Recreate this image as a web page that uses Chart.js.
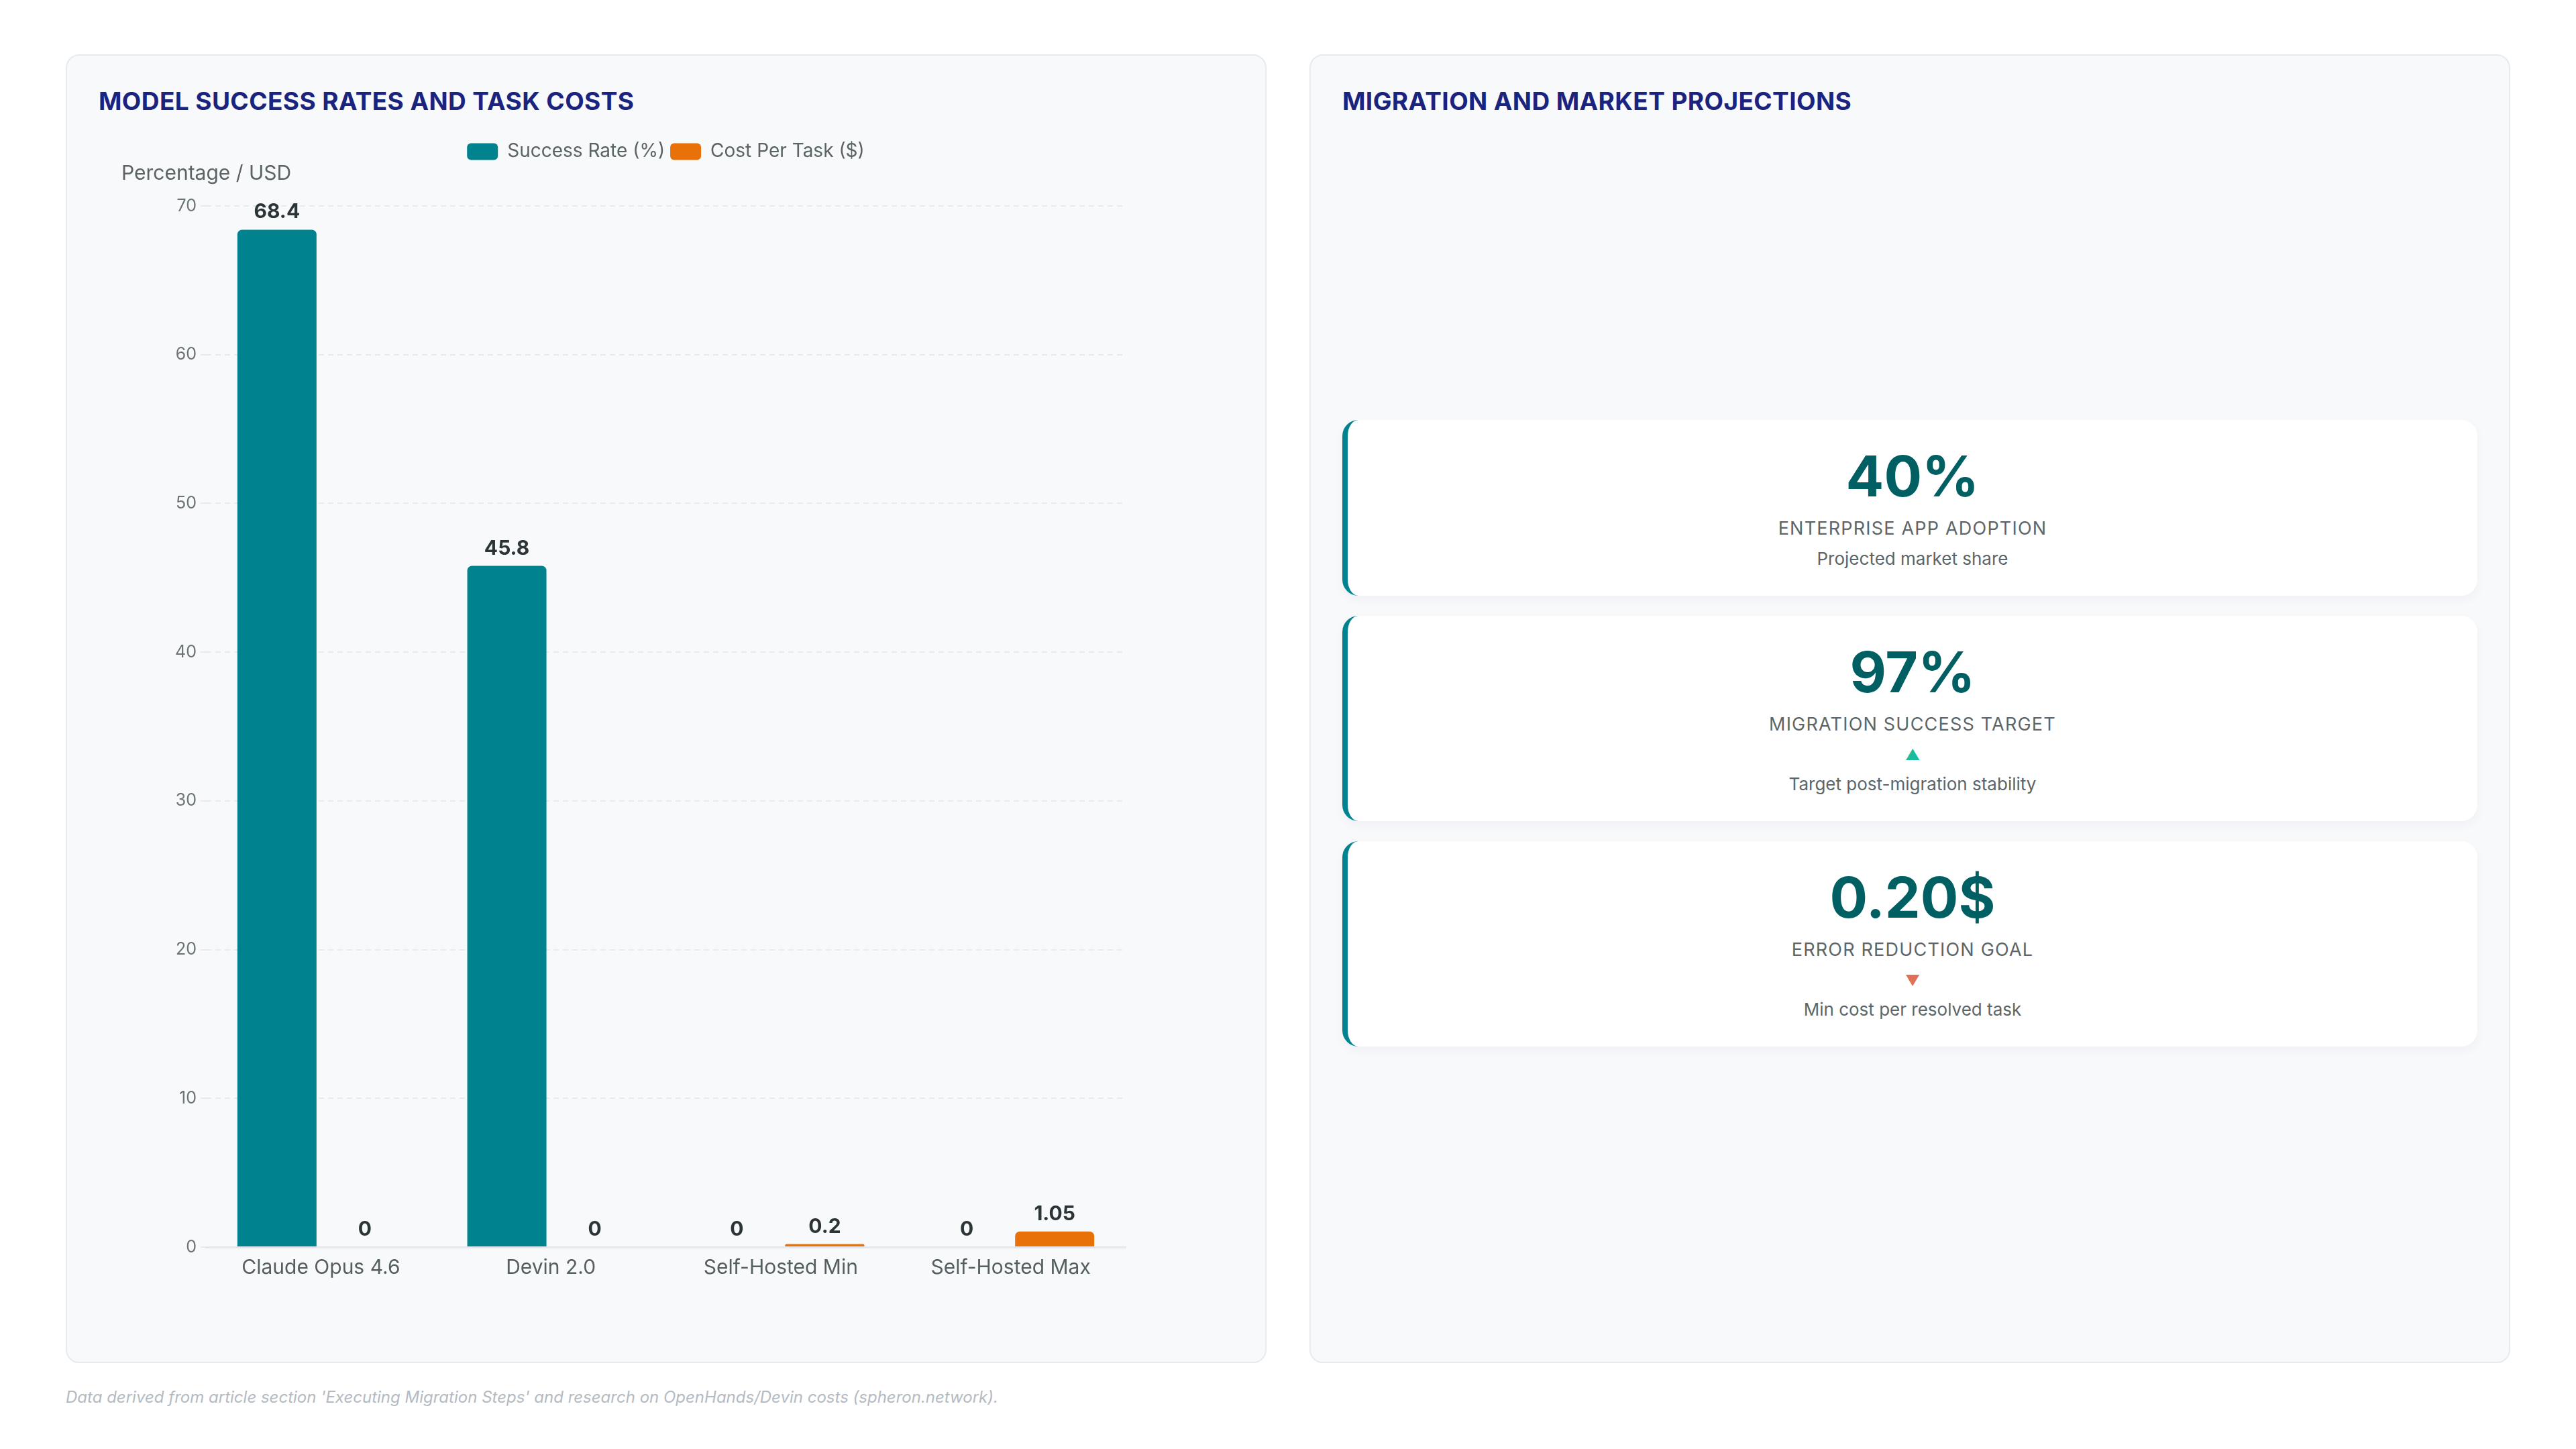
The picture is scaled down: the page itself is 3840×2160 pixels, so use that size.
<!DOCTYPE html>
<html>
<head>
<meta charset="utf-8">
<script src="https://cdn.jsdelivr.net/npm/chart.js@4.4.1/dist/chart.umd.min.js"></script>
<style>
  html, body { margin: 0; padding: 0; background: #ffffff; }
  body { width: 3840px; height: 2160px; position: relative; font-family: Inter, "Noto Sans", sans-serif; overflow: hidden; }
  .panel { position: absolute; top: 81px; height: 1951px; background: #f8f9fb; border: 2px solid #e7eaee; border-radius: 20px; box-sizing: border-box; }
  #left { left: 98px; width: 1790px; }
  #right { left: 1952px; width: 1790px; }
  .ptitle { position: absolute; left: 47px; top: 48px; margin: 0; font-size: 37px; line-height: 40px; font-weight: 700; color: #1a237e; letter-spacing: 0.4px; }
  #chartBox { position: absolute; left: 81px; top: 121px; width: 1656px; height: 1778px; }
  #cards { position: absolute; left: 47px; right: 47px; top: 120px; bottom: 47px; display: flex; flex-direction: column; justify-content: center; gap: 30px; }
  .card { background: #ffffff; border-left: 8px solid #00838f; border-radius: 24px; box-shadow: 0 6px 16px rgba(20, 30, 40, 0.04); padding: 34px 20px 38px 20px; text-align: center; }
  .kval { font-size: 84px; line-height: 99px; font-weight: 700; color: #005f62; }
  .klabel { margin-top: 11px; font-size: 27px; line-height: 36px; letter-spacing: 1.2px; color: #5c6668; text-transform: uppercase; }
  .ktrend { margin-top: 10px; font-size: 22px; line-height: 34px; }
  .knote { margin-top: 10px; font-size: 26px; line-height: 34px; color: #5c6668; }
  #foot { position: absolute; left: 98px; top: 2068px; font-size: 24px; font-style: italic; color: #b3bac1; }
</style>
</head>
<body>
<div class="panel" id="left">
  <h2 class="ptitle">MODEL SUCCESS RATES AND TASK COSTS</h2>
  <div id="chartBox"><canvas id="chart"></canvas></div>
</div>
<div class="panel" id="right">
  <h2 class="ptitle">MIGRATION AND MARKET PROJECTIONS</h2>
  <div id="cards"></div>
</div>
<div id="foot">Data derived from article section 'Executing Migration Steps' and research on OpenHands/Devin costs (spheron.network).</div>

<script>
const categories = ["Claude Opus 4.6", "Devin 2.0", "Self-Hosted Min", "Self-Hosted Max"];
const successRate = [68.4, 45.8, 0, 0];
const costPerTask = [0, 0, 0.2, 1.05];
const seriesNames = ["Success Rate (%)", "Cost Per Task ($)"];
const yMax = 70;
const yStep = 10;
const yName = "Percentage / USD";

const kpiValues = ["40%", "97%", "0.20$"];
const kpiLabels = ["Enterprise App Adoption", "Migration Success Target", "Error Reduction Goal"];
const kpiTrends = ["", "up", "down"];
const kpiNotes = ["Projected market share", "Target post-migration stability", "Min cost per resolved task"];

// cards on the right
const cardsEl = document.getElementById("cards");
kpiValues.forEach((v, i) => {
  const card = document.createElement("div");
  card.className = "card";
  let html = `<div class="kval">${v}</div><div class="klabel">${kpiLabels[i]}</div>`;
  if (kpiTrends[i] === "up") html += `<div class="ktrend" style="color:#1abc9c">&#9650;</div>`;
  if (kpiTrends[i] === "down") html += `<div class="ktrend" style="color:#e07055">&#9660;</div>`;
  html += `<div class="knote">${kpiNotes[i]}</div>`;
  card.innerHTML = html;
  cardsEl.appendChild(card);
});

// value labels above the bars
const valueLabels = {
  id: "valueLabels",
  afterDatasetsDraw(chart) {
    const ctx = chart.ctx;
    ctx.save();
    ctx.font = "700 30px Inter";
    ctx.fillStyle = "#2b3437";
    ctx.textAlign = "center";
    ctx.textBaseline = "middle";
    chart.data.datasets.forEach((ds, di) => {
      chart.getDatasetMeta(di).data.forEach((bar, i) => {
        ctx.fillText(String(ds.data[i]), bar.x, bar.y - 26);
      });
    });
    ctx.restore();
  }
};

new Chart(document.getElementById("chart"), {
  type: "bar",
  data: {
    labels: categories,
    datasets: [
      { label: seriesNames[0], data: successRate, backgroundColor: "#00838f", borderRadius: 7 },
      { label: seriesNames[1], data: costPerTask, backgroundColor: "#e8710a", borderRadius: 7 }
    ]
  },
  options: {
    responsive: true,
    maintainAspectRatio: false,
    animation: false,
    devicePixelRatio: 1,
    layout: { padding: { right: 159 } },
    datasets: { bar: { categoryPercentage: 0.765, barPercentage: 0.9 } },
    plugins: {
      legend: {
        position: "top",
        fullSize: false,
        labels: {
          boxWidth: 46, boxHeight: 25, useBorderRadius: true, borderRadius: 6,
          padding: 8, color: "#5a6365", font: { family: "Inter", size: 28 }
        }
      },
      subtitle: {
        display: true, text: yName, align: "start", weight: 500,
        color: "#5a6365", font: { family: "Inter", size: 30, weight: "normal", lineHeight: 1 },
        padding: { top: -6, bottom: 33 }
      },
      tooltip: { enabled: false }
    },
    scales: {
      x: {
        grid: { display: false },
        border: { display: true, color: "#e4e7eb", width: 3 },
        ticks: { color: "#555e60", font: { family: "Inter", size: 30 }, padding: 5 },
        afterFit: (s) => { s.height = 123; }
      },
      y: {
        min: 0, max: yMax,
        ticks: { stepSize: yStep, color: "#6b7477", font: { family: "Inter", size: 25 }, padding: 6 },
        grid: { color: "#e8ebee", lineWidth: 2 },
        border: { display: false, dash: [8, 6] },
        afterFit: (s) => { s.width = 126; }
      }
    }
  },
  plugins: [valueLabels]
});
</script>
</body>
</html>
